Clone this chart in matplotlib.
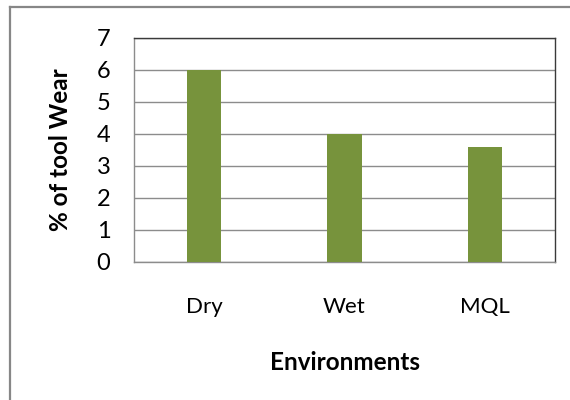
import matplotlib
matplotlib.use("Agg")
import matplotlib.pyplot as plt
from matplotlib.lines import Line2D

environments = ["Dry", "Wet", "MQL"]
tool_wear = [6.0, 4.0, 3.6]
y_ticks = [0, 1, 2, 3, 4, 5, 6, 7]

plt.rcParams["font.family"] = ["Lato", "DejaVu Sans"]

fig = plt.figure(figsize=(5.7, 4.0), dpi=100)
W, H = 570, 400

# chart frame (extends past the image edge on the right and bottom)
fig.add_artist(Line2D([10 / W, 1.0], [1 - 7 / H, 1 - 7 / H], transform=fig.transFigure,
                      color="#878787", lw=1.6))
fig.add_artist(Line2D([10 / W, 10 / W], [0.0, 1 - 7 / H], transform=fig.transFigure,
                      color="#878787", lw=1.6))

ax = fig.add_axes([134 / W, 1 - 262 / H, (555 - 134) / W, (262 - 38) / H])
x = range(len(environments))
ax.bar(x, tool_wear, width=0.245, color="#77933C", zorder=3)
ax.set_xlim(-0.5, len(environments) - 0.5)
ax.set_ylim(0, 7)
ax.set_yticks(y_ticks)
ax.set_yticklabels([str(t) for t in y_ticks], fontsize=17)
ax.set_xticks(list(x))
ax.set_xticklabels(environments, fontsize=16)
ax.tick_params(axis="both", length=0)
ax.tick_params(axis="y", pad=17)
ax.tick_params(axis="x", pad=25)
ax.grid(axis="y", color="#8c8c8c", lw=1.0, zorder=0)

for side in ("left", "bottom"):
    ax.spines[side].set_color("#8c8c8c")
    ax.spines[side].set_linewidth(1.0)
for side in ("top", "right"):
    ax.spines[side].set_color("#3a3a3a")
    ax.spines[side].set_linewidth(1.0)

ax.set_ylabel("% of tool Wear", fontsize=17.5, fontweight="bold")
ax.yaxis.set_label_coords(-(134 - 61) / (555 - 134), 0.5)
ax.set_xlabel("Environments", fontsize=17.5, fontweight="bold")
ax.xaxis.set_label_coords(0.5, -(363 - 262) / (262 - 38))
ax.xaxis.label.set_va("center")
ax.yaxis.label.set_va("center")

fig.savefig("out.png", dpi=100)
